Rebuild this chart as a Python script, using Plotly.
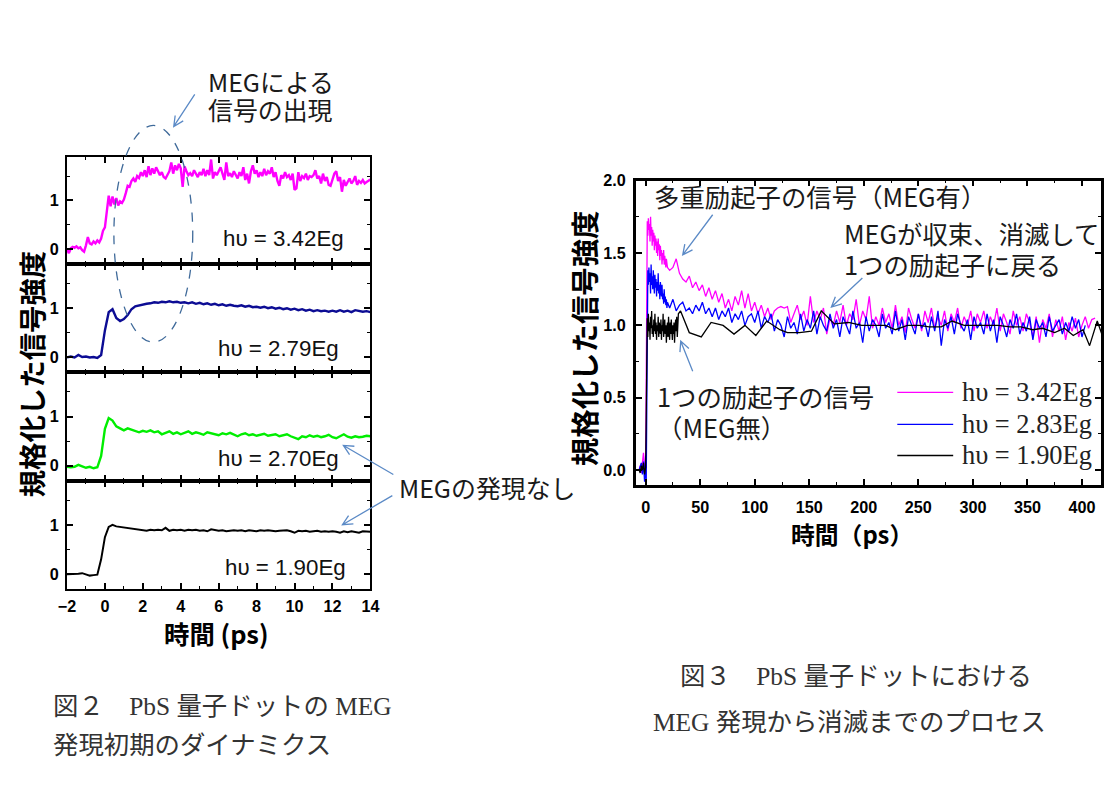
import math
import plotly.graph_objects as go

W, H = 1110, 807
# the captured page appears as a slightly wider region (8 px pad, scale 1110/1126);
# positions below are given in target-picture pixels and mapped onto the figure.
S = 1126 / 1110
OFF = 8

# ---------------- data: left panels (t = -2 .. 14 ps) ----------------
left_m342 = [
    0.00, -0.08, 0.02, 0.05, 0.03, 0.06, 0.02, 0.04, -0.02, -0.05,
    0.08, 0.25, 0.12, 0.10, 0.16, 0.12, 0.18, 0.14, 0.22, 0.38,
    0.45, 0.85, 1.10, 0.88, 1.08, 0.92, 1.05, 0.90, 0.98, 0.95,
    1.02, 1.15, 1.30, 1.28, 1.40, 1.45, 1.38, 1.50, 1.46, 1.58,
    1.50, 1.62, 1.48, 1.70, 1.52, 1.66, 1.55, 1.68, 1.60, 1.52,
    1.58, 1.48, 1.45, 1.52, 1.60, 1.78, 1.55, 1.72, 1.62, 1.75,
    1.66, 1.28, 1.70, 1.60, 1.52, 1.56, 1.50, 1.62, 1.55, 1.48,
    1.58, 1.52, 1.65, 1.50, 1.62, 1.52, 1.84, 1.45, 1.58, 1.52,
    1.60, 1.68, 1.55, 1.42, 1.78, 1.50, 1.56, 1.48, 1.60, 1.52,
    1.45, 1.58, 1.50, 1.68, 1.42, 1.55, 1.35, 1.60, 1.72, 1.55,
    1.62, 1.48, 1.58, 1.50, 1.65, 1.52, 1.60, 1.55, 1.68, 1.48,
    1.58, 1.40, 1.30, 1.52, 1.45, 1.58, 1.48, 1.52, 1.42, 1.55,
    1.22, 1.25, 1.58, 1.40, 1.50, 1.46, 1.55, 1.42, 1.50, 1.48,
    1.52, 1.62, 1.45, 1.50, 1.35, 1.55, 1.40, 1.48, 1.32, 1.30,
    1.42, 1.55, 1.60, 1.40, 1.48, 1.18, 1.42, 1.30, 1.38, 1.45,
    1.35, 1.40, 1.50, 1.32, 1.40, 1.36, 1.42, 1.35, 1.38, 1.40,
    1.43,
]
left_b279 = [
    0.00, 0.02, 0.00, 0.05, 0.01, 0.02, 0.00, 0.01, -0.01, 0.05,
    0.55, 0.92, 0.98, 0.80, 0.74, 0.78, 0.86, 0.98, 1.04, 1.06,
    1.07, 1.09, 1.10, 1.12, 1.11, 1.13, 1.12, 1.14, 1.12, 1.13,
    1.11, 1.12, 1.10, 1.12, 1.09, 1.11, 1.08, 1.10, 1.07, 1.09,
    1.06, 1.08, 1.05, 1.07, 1.05, 1.04, 1.06, 1.03, 1.05, 1.02,
    1.03, 1.01, 1.03, 1.00, 1.02, 0.99, 1.01, 0.98, 1.00, 0.97,
    0.99, 0.96, 0.98, 0.95, 0.97, 0.94, 0.96, 0.94, 0.95, 0.93,
    0.95, 0.93, 0.96, 0.93, 0.95, 0.92, 0.96, 0.94, 0.93, 0.94,
    0.92,
]
left_g270 = [
    -0.02, -0.03, -0.02, 0.02, -0.01, -0.04, -0.02, -0.05, -0.03, 0.20,
    0.75, 0.97, 0.92, 0.80, 0.76, 0.72, 0.76, 0.73, 0.70, 0.68,
    0.71, 0.69, 0.72, 0.68, 0.70, 0.64, 0.67, 0.70, 0.65, 0.68,
    0.64, 0.67, 0.70, 0.65, 0.68, 0.66, 0.63, 0.68, 0.66, 0.63,
    0.62, 0.66, 0.64, 0.67, 0.63, 0.60, 0.64, 0.66, 0.62, 0.64,
    0.61, 0.63, 0.65, 0.61, 0.62, 0.64, 0.60, 0.62, 0.64, 0.60,
    0.57, 0.54, 0.60, 0.58, 0.62, 0.59, 0.61, 0.58, 0.60, 0.63,
    0.58, 0.56, 0.60, 0.64, 0.59, 0.57, 0.60, 0.58, 0.59, 0.61,
    0.60,
]
left_k190 = [
    0.00, 0.00, 0.00, 0.01, 0.02, -0.01, -0.03, -0.02, -0.01, 0.30,
    0.75, 0.96, 1.00, 0.97, 0.96, 0.95, 0.94, 0.93, 0.92, 0.91,
    0.89, 0.88, 0.90, 0.89, 0.90, 0.89, 0.94, 0.88, 0.90, 0.89,
    0.90, 0.88, 0.90, 0.89, 0.90, 0.88, 0.89, 0.87, 0.91, 0.90,
    0.88, 0.89, 0.87, 0.88, 0.89, 0.88, 0.89, 0.87, 0.89, 0.88,
    0.87, 0.89, 0.88, 0.89, 0.88, 0.87, 0.88, 0.88, 0.89, 0.87,
    0.84, 0.88, 0.87, 0.88, 0.86, 0.87, 0.88, 0.86, 0.87, 0.86,
    0.87, 0.86, 0.84, 0.87, 0.85, 0.87, 0.86, 0.84, 0.87, 0.86,
    0.86,
]
t_left_fine = [round(-2 + 0.1 * i, 2) for i in range(len(left_m342))]
t_left = [round(-2 + 0.2 * i, 2) for i in range(len(left_b279))]
left_labels = ["hυ = 3.42Eg", "hυ = 2.79Eg", "hυ = 2.70Eg", "hυ = 1.90Eg"]

# ---------------- data: right panel (t in ps) ----------------
base_m = [0.00, 0.03, -0.02, 0.05, 0.12, 0.02, 0.05]
base_b = [0.00, 0.02, 0.05, -0.03, 0.06, -0.08, 0.10]
base_k = [0.00, -0.02, 0.03, 0.00, 0.05, -0.03, 0.02]
early_m = [0.60, 1.45, 1.72, 1.62, 1.74, 1.66, 1.70, 1.58, 1.75, 1.62,
           1.68, 1.55, 1.66, 1.58, 1.64, 1.52, 1.62, 1.55, 1.60, 1.50,
           1.58, 1.48, 1.60, 1.52, 1.56, 1.45, 1.55, 1.48, 1.52, 1.42,
           1.50, 1.45, 1.52, 1.42, 1.48, 1.44, 1.40, 1.46, 1.42, 1.40]
early_b = [-0.10, 0.72, 1.25, 1.38, 1.28, 1.40, 1.30, 1.36, 1.22, 1.42,
           1.28, 1.34, 1.25, 1.38, 1.30, 1.22, 1.35, 1.26, 1.32, 1.20,
           1.30, 1.24, 1.36, 1.22, 1.28, 1.18, 1.30, 1.24, 1.20, 1.28,
           1.18, 1.22, 1.15, 1.25, 1.16, 1.20, 1.14, 1.18, 1.12, 1.16]
early_k = [0.30, 0.95, 1.05, 0.92, 1.08, 0.96, 1.02, 0.90, 1.06, 0.98,
           1.10, 0.94, 1.00, 0.92, 1.04, 0.96, 1.08, 0.94, 1.02, 0.90,
           1.00, 0.96, 1.06, 0.92, 1.02, 0.98, 0.94, 1.04, 0.90, 1.00,
           0.96, 1.08, 0.92, 0.98, 1.04, 0.94, 1.00, 0.88, 0.98, 1.02,
           0.92, 1.06, 0.96, 0.90, 1.02, 0.94, 1.04, 0.98, 0.90, 1.00,
           0.94, 1.02, 0.88, 0.98, 1.04, 0.96, 1.06, 0.92, 1.00, 1.08]
late_m = [1.38, 1.40, 1.46, 1.36, 1.32, 1.30, 1.34, 1.26, 1.30, 1.24,
          1.28, 1.20, 1.26, 1.18, 1.24, 1.16, 1.22, 1.12, 1.18, 1.10,
          1.20, 1.14, 1.24, 1.12, 1.22, 1.10, 1.16, 1.08, 1.14, 1.06,
          1.12, 1.04, 1.10, 1.12, 1.13, 1.12, 1.13, 1.02, 1.08, 1.14,
          1.04, 1.10, 1.00, 1.20, 1.02, 1.10, 1.04, 1.12, 0.94, 1.05,
          1.00, 1.10, 1.02, 1.14, 1.00, 1.08, 1.04, 1.18, 1.00, 1.10,
          1.04, 1.20, 0.98, 1.06, 1.00, 1.12, 1.02, 1.08, 0.98, 1.14,
          1.00, 1.06, 0.95, 1.12, 1.04, 0.98, 1.08, 0.96, 1.10, 1.02,
          1.12, 0.98, 1.06, 1.00, 1.10, 0.96, 1.08, 1.02, 1.12, 0.98,
          1.06, 1.00, 1.10, 0.96, 1.08, 1.02, 1.10, 0.98, 1.06, 1.00,
          1.12, 0.96, 1.08, 1.02, 0.94, 1.10, 1.00, 1.06, 0.96, 1.08,
          1.02, 0.92, 1.06, 0.88, 1.04, 0.98, 1.08, 0.92, 1.04, 0.96,
          1.06, 0.90, 1.02, 0.96, 1.05, 0.92, 1.00, 1.06, 0.98, 1.04,
          1.05]
late_b = [1.12, 1.18, 1.10, 1.14, 1.16, 1.10, 1.12, 1.08, 1.14, 1.10,
          1.16, 1.08, 1.12, 1.06, 1.12, 1.04, 1.10, 1.06, 1.12, 1.02,
          1.08, 1.04, 1.10, 1.00, 1.06, 1.08, 1.02, 1.10, 0.98, 1.06,
          1.02, 1.08, 0.96, 1.04, 1.00, 0.92, 1.06, 0.98, 1.02, 0.94,
          1.08, 0.96, 1.04, 0.98, 1.10, 0.94, 1.06, 1.00, 0.96, 1.08,
          0.98, 1.04, 0.92, 1.06, 1.00, 0.94, 1.10, 0.98, 1.02, 0.88,
          1.06, 0.96, 1.04, 1.00, 0.92, 1.08, 0.98, 1.02, 0.94, 1.10,
          0.96, 1.04, 0.90, 1.06, 1.00, 0.94, 1.08, 0.98, 1.02, 0.92,
          1.06, 0.96, 1.10, 0.86, 1.04, 0.98, 1.06, 0.94, 1.08, 1.00,
          0.96, 1.04, 0.90, 1.06, 0.98, 1.02, 0.94, 1.08, 0.96, 1.04,
          0.88, 1.06, 1.00, 0.92, 1.04, 0.98, 1.08, 0.94, 1.02, 0.96,
          1.06, 0.90, 1.04, 0.98, 1.02, 0.92, 1.06, 0.96, 1.00, 1.04,
          0.94, 1.02, 0.96, 1.06, 0.98, 1.04, 0.92, 1.00]
t_sparse_k = [32, 40, 51, 60, 71, 81, 91, 101, 111, 123, 130, 141, 152, 161,
              173, 186, 198, 211, 220, 229, 240, 251, 260, 271, 281, 292, 303,
              314, 323, 334, 344, 355, 364, 375, 384, 392, 401, 407, 414, 421]
sparse_k = [1.10, 0.95, 0.92, 1.02, 1.00, 0.94, 1.00, 0.93, 1.03, 0.97,
            0.95, 0.95, 0.96, 1.10, 1.01, 1.02, 1.00, 1.00, 1.00, 0.97,
            1.00, 1.00, 0.99, 0.99, 1.03, 1.00, 1.00, 1.00, 1.00, 0.99,
            0.99, 0.97, 0.98, 0.95, 0.98, 0.93, 0.97, 0.86, 1.03, 0.88]

t_base = list(range(-6, 1))
t_early_mb = [0.5 * (i + 1) for i in range(len(early_m))]
t_early_k = [0.5 * (i + 1) for i in range(len(early_k))]
t_late_m = [22 + 3 * i for i in range(len(late_m))]
t_late_b = [22 + 3 * i for i in range(len(late_b))]

right_names = ["hυ = 3.42Eg", "hυ = 2.83Eg", "hυ = 1.90Eg"]
right_colors = ["#ff00ff", "#0000ff", "#000000"]


# ---------------- helpers ----------------
def px(x):
    return (x * S - OFF) / W


def py(y):
    return 1 - (y * S - OFF) / H


def fs(v):
    return round(v * S, 1)


JP = "Noto Sans CJK JP"
SANS = "Liberation Sans, Arial, sans-serif"
SERIF_JP = "Liberation Serif, Noto Sans CJK JP, serif"

fig = go.Figure()

left_series = [
    (t_left_fine, left_m342, "#ff00ff", 2.4),
    (t_left, left_b279, "#0c0c94", 2.4),
    (t_left, left_g270, "#00ee00", 2.4),
    (t_left, left_k190, "#000000", 2.0),
]
for i, (tx, vy, col, lw) in enumerate(left_series):
    sfx = "" if i == 0 else str(i + 1)
    fig.add_trace(go.Scatter(x=tx, y=vy, mode="lines", line=dict(color=col, width=lw),
                             xaxis="x" + sfx, yaxis="y" + sfx, showlegend=False,
                             hoverinfo="skip"))

right_series = [
    (t_base + t_early_mb + t_late_m, base_m + early_m + late_m),
    (t_base + t_early_mb + t_late_b, base_b + early_b + late_b),
    (t_base + t_early_k + t_sparse_k, base_k + early_k + sparse_k),
]
for (tx, vy), col, nm in zip(right_series, right_colors, right_names):
    fig.add_trace(go.Scatter(x=tx, y=vy, mode="lines", name=nm,
                             line=dict(color=col, width=1.3),
                             xaxis="x5", yaxis="y5", showlegend=False, hoverinfo="skip"))

common = dict(showline=True, linecolor="black", linewidth=2, mirror="ticks",
              ticks="inside", ticklen=6, tickwidth=1.5, tickcolor="black",
              showgrid=False, zeroline=False, fixedrange=True)

panel_px = [(155, 262), (262, 370), (370, 478), (478, 586)]
layout = dict(width=W, height=H, margin=dict(l=0, r=0, t=0, b=0),
              paper_bgcolor="white", plot_bgcolor="white", showlegend=False)
for i, (top, bot) in enumerate(panel_px):
    sfx = "" if i == 0 else str(i + 1)
    last = i == 3
    layout["xaxis" + sfx] = dict(common, domain=[px(66), px(370)], range=[-2, 14],
                                 anchor="y" + sfx, dtick=2, tick0=0,
                                 minor=dict(ticks="inside", ticklen=3, tickwidth=1.2,
                                            tickcolor="black", dtick=1),
                                 showticklabels=last,
                                 tickfont=dict(family=SANS, size=fs(16), color="black", weight="bold"),
                                 ticklabelstandoff=2)
    layout["yaxis" + sfx] = dict(common, domain=[py(bot), py(top)], range=[-0.3, 1.9],
                                 anchor="x" + sfx, dtick=1, tick0=0,
                                 minor=dict(ticks="inside", ticklen=3, tickwidth=1.2,
                                            tickcolor="black", dtick=0.5),
                                 tickfont=dict(family=SANS, size=fs(16), color="black", weight="bold"),
                                 ticklabelstandoff=3)

# right plot frame (target pixels) and data range
R_L, R_R = 636, 1106
R_MIN, R_MAX = -9, 421
ppu = (R_R - R_L) / (R_MAX - R_MIN)
dom_r = px(R_R)
r_max = R_MAX
if dom_r > 1:
    dom_r = 1.0
    r_max = R_MIN + ((W + OFF) / S - R_L) / ppu

layout["xaxis5"] = dict(common, domain=[px(R_L), dom_r], range=[R_MIN, r_max],
                        anchor="y5", dtick=50, tick0=0, linewidth=2.5,
                        minor=dict(ticks="inside", ticklen=3, tickwidth=1.2,
                                   tickcolor="black", dtick=25),
                        tickfont=dict(family=SANS, size=fs(16), color="black", weight="bold"),
                        ticklabelstandoff=6)
layout["yaxis5"] = dict(common, domain=[py(482), py(179)], range=[-0.1, 2.0],
                        anchor="x5", dtick=0.5, tick0=0, linewidth=2.5, tickformat=".1f",
                        minor=dict(ticks="inside", ticklen=3, tickwidth=1.2,
                                   tickcolor="black", dtick=0.25),
                        tickfont=dict(family=SANS, size=fs(16), color="black", weight="bold"),
                        ticklabelstandoff=4)
fig.update_layout(**layout)

ann = []


def text(x, y, s, size, family=JP, anchor="left", bold=False, color="#1a1a1a", angle=0):
    ann.append(dict(x=px(x), y=py(y), xref="paper", yref="paper", text=s, showarrow=False,
                    xanchor=anchor, yanchor="middle", textangle=angle,
                    font=dict(family=family, size=fs(size), color=color,
                              weight="bold" if bold else "normal")))


# left panel labels
label_pos = [(220, 237), (215, 346), (215, 456), (222, 565)]
for (lx, ly), s in zip(label_pos, left_labels):
    text(lx, ly, s, 22, family=SANS, color="#111111")

text(205, 80, "MEGによる", 24.5)
text(205, 108, "信号の出現", 24.5)
text(397, 484, "MEGの発現なし", 24.5)

# axis titles
text(30, 372, "規格化した信号強度", 27, bold=True, anchor="center", color="black", angle=-90)
text(216, 630, "時間 (ps)", 25, bold=True, anchor="center", color="black")
text(583, 336, "規格化した信号強度", 28, bold=True, anchor="center", color="black", angle=-90)
text(853, 531, "時間（ps）", 23.5, bold=True, anchor="center", color="black")

# right annotations
text(652, 194, "多重励起子の信号（MEG有）", 25)
text(843, 231, "MEGが収束、消滅して", 25)
text(843, 262, "1つの励起子に戻る", 25)
text(655, 394, "1つの励起子の信号", 25)
text(655, 425, "（MEG無）", 25)

# legend (right)
leg_y = [390, 422, 453]
shapes = []
for yy, col, nm in zip(leg_y, right_colors, right_names):
    shapes.append(dict(type="line", xref="paper", yref="paper", x0=px(898), x1=px(954),
                       y0=py(yy), y1=py(yy), line=dict(color=col, width=1.3)))
    text(961, yy, nm, 26, family=SERIF_JP, color="#222222")

# captions
text(50, 703, "図２　PbS 量子ドットの MEG", 25, family=SERIF_JP, color="#333333")
text(50, 742, "発現初期のダイナミクス", 25, family=SERIF_JP, color="#333333")
text(857, 673, "図３　PbS 量子ドットにおける", 25, family=SERIF_JP, anchor="center", color="#333333")
text(850, 719, "MEG 発現から消滅までのプロセス", 25, family=SERIF_JP, anchor="center", color="#333333")

# dashed ellipse
shapes.append(dict(type="circle", xref="paper", yref="paper", x0=px(113), x1=px(192),
                   y0=py(340), y1=py(124), line=dict(color="#3f6a9a", width=1.3, dash="dash"),
                   fillcolor="rgba(0,0,0,0)"))


def arrow(x0, y0, x1, y1, head=11, ang=26):
    dx, dy = x1 - x0, y1 - y0
    L = math.hypot(dx, dy)
    ux, uy = -dx / L, -dy / L
    a = math.radians(ang)
    pts = []
    for s in (1, -1):
        c, sn = math.cos(s * a), math.sin(s * a)
        rx, ry = ux * c - uy * sn, ux * sn + uy * c
        pts.append((x1 + head * rx, y1 + head * ry))
    path = (f"M {px(x0)},{py(y0)} L {px(x1)},{py(y1)} "
            f"M {px(pts[0][0])},{py(pts[0][1])} L {px(x1)},{py(y1)} L {px(pts[1][0])},{py(pts[1][1])}")
    shapes.append(dict(type="path", xref="paper", yref="paper", path=path,
                       line=dict(color="#5b8ac6", width=1.3)))


arrow(194, 93, 173, 125)
arrow(393, 472, 343, 443)
arrow(392, 493, 342, 522)
arrow(713, 213, 683, 253)
arrow(863, 276, 832, 305)
arrow(693, 369, 681, 339)

fig.update_layout(annotations=ann, shapes=shapes)
fig.write_html(
    "out.html",
    config={"displayModeBar": False},
    post_script="document.body.style.margin='0';document.body.style.padding='0';"
                "document.body.style.overflow='hidden';"
                "document.documentElement.style.overflow='hidden';",
)
